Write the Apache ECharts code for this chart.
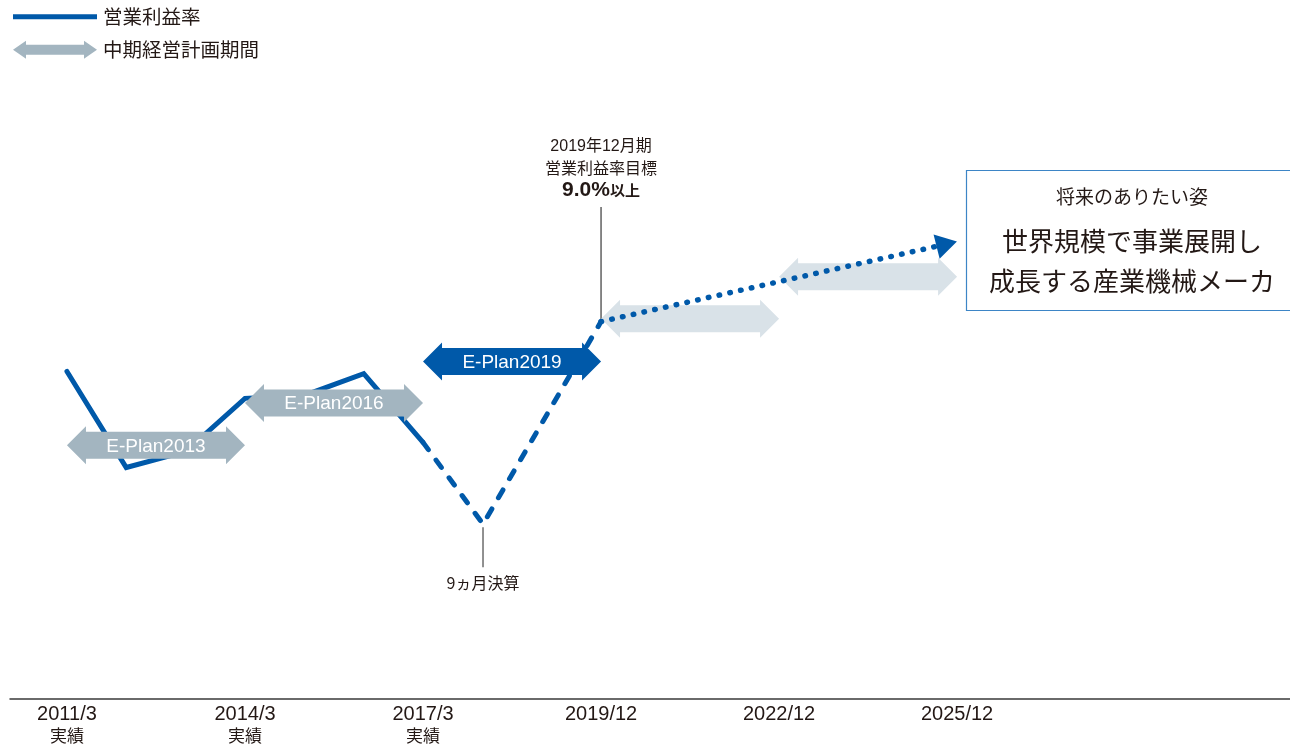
<!DOCTYPE html>
<html><head><meta charset="utf-8">
<script src="https://cdn.jsdelivr.net/npm/echarts@6/dist/echarts.min.js"></script>
<style>html,body{margin:0;padding:0;background:#fff}#c{width:1290px;height:744px}</style>
</head><body><div id="c"></div>
<script>
// ---- data ----
const periods = ['2011/3', '2014/3', '2017/3', '2019/12', '2022/12', '2025/12'];
const periodNotes = ['実績', '実績', '実績', '', '', ''];
const tickPos = [0, 1, 2, 3, 4, 5];

const actualX = [0, 0.333, 0.667, 1, 1.333, 1.667, 2];
const actualMargin = [7.81, 5.52, 5.90, 7.17, 7.24, 7.76, 6.12];

// transition period incl. 9-month settlement
const transX = [2, 2.337, 3];
const transMargin = [6.12, 4.17, 9.0];

// target toward future vision
const targetX = [3, 4.942];
const targetMargin = [9.0, 10.85];

// mid-term plan periods
const planNames = ['E-Plan2013', 'E-Plan2016', 'E-Plan2019', '', ''];
const planStart = [0, 1, 2, 3, 4];
const planEnd = [1, 2, 3, 4, 5];
const planLevel = [6.05, 7.06, 8.05, 9.07, 10.07];
const planStatus = ['past', 'past', 'current', 'future', 'future'];

// ---- chart ----
const SANS = '"Liberation Sans","Noto Sans CJK JP",sans-serif';
const CJK = '"Noto Sans CJK JP","Liberation Sans",sans-serif';
const TXT = '#231815';
const BLUE = '#0059A9';
const statusColor = { past: '#A3B5C0', current: '#0059A9', future: '#D9E2E8' };
const ARROW_ICON = 'path://M0,9L13,0L13,4L71,4L71,0L84,9L71,18L71,14L13,14L13,18Z';

const chart = echarts.init(document.getElementById('c'));

function arrowPoints(x0, x1, yc) {
  const hl = 19, bh = 13.5, hh = 19;
  return [
    [x0, yc], [x0 + hl, yc - hh], [x0 + hl, yc - bh], [x1 - hl, yc - bh], [x1 - hl, yc - hh],
    [x1, yc], [x1 - hl, yc + hh], [x1 - hl, yc + bh], [x0 + hl, yc + bh], [x0 + hl, yc + hh]
  ];
}

const option = {
  animation: false,
  grid: { left: 10, right: 0, top: 70, bottom: 44 },
  legend: [
    {
      data: [{ name: '営業利益率', icon: 'rect' }],
      left: 13, top: 7, padding: 0, itemWidth: 84, itemHeight: 5, selectedMode: false,
      textStyle: { fontFamily: CJK, fontSize: 19.5, color: TXT, padding: [0, 0, 0, 1] }
    },
    {
      data: [{ name: '中期経営計画期間', icon: ARROW_ICON }],
      left: 13, top: 40, padding: 0, itemWidth: 84, itemHeight: 18, selectedMode: false,
      textStyle: { fontFamily: CJK, fontSize: 19.5, color: TXT, padding: [0, 0, 0, 1] }
    }
  ],
  xAxis: {
    type: 'value', min: -0.32, max: 6.87,
    splitLine: { show: false },
    axisTick: { show: false },
    axisLine: { show: true, onZero: false, lineStyle: { color: '#3a3a3a', width: 1.5 } },
    axisLabel: {
      customValues: tickPos,
      margin: 4,
      formatter: function (v) {
        const i = tickPos.indexOf(v);
        if (i < 0) return '';
        return periodNotes[i] ? '{a|' + periods[i] + '}\n{b|' + periodNotes[i] + '}' : '{a|' + periods[i] + '}';
      },
      rich: {
        a: { fontFamily: SANS, fontSize: 20, color: TXT, lineHeight: 22 },
        b: { fontFamily: CJK, fontSize: 17, color: TXT, lineHeight: 21 }
      }
    }
  },
  yAxis: { type: 'value', min: 0, max: 15, show: false },
  series: [
    {
      name: '中期経営計画期間', type: 'custom', z: 3,
      itemStyle: { color: statusColor.past },
      data: planStart.map((s, i) => [s, planEnd[i], planLevel[i], i]),
      encode: { x: [0, 1], y: 2 },
      renderItem: function (params, api) {
        const i = api.value(3);
        const p0 = api.coord([api.value(0), api.value(2)]);
        const p1 = api.coord([api.value(1), api.value(2)]);
        const children = [{
          type: 'polygon',
          shape: { points: arrowPoints(p0[0], p1[0], p0[1]) },
          style: { fill: statusColor[planStatus[i]] }
        }];
        if (planNames[i]) {
          children.push({
            type: 'text',
            style: {
              text: planNames[i], x: (p0[0] + p1[0]) / 2, y: p0[1] + 1,
              align: 'center', verticalAlign: 'middle', fill: '#ffffff',
              font: '19px ' + SANS
            }
          });
        }
        return { type: 'group', children: children };
      }
    },
    {
      name: '営業利益率', type: 'line', z: 2, showSymbol: false, symbol: 'none',
      itemStyle: { color: BLUE },
      lineStyle: { color: BLUE, width: 5, cap: 'round', join: 'miter' },
      data: actualX.map((x, i) => [x, actualMargin[i]])
    },
    {
      name: '営業利益率（移行期）', type: 'line', z: 2, showSymbol: false, symbol: 'none',
      itemStyle: { color: BLUE },
      lineStyle: { color: BLUE, width: 5, type: [9, 13], cap: 'round', join: 'round' },
      data: transX.map((x, i) => [x, transMargin[i]])
    },
    {
      name: '営業利益率（目標）', type: 'line', z: 5, showSymbol: true,
      itemStyle: { color: BLUE },
      lineStyle: { color: BLUE, width: 5.5, type: [0.5, 10.5], cap: 'round' },
      data: targetX.map((x, i) => i === targetX.length - 1
        ? { value: [x, targetMargin[i]], symbol: 'triangle', symbolSize: [25, 21], symbolRotate: -76 }
        : { value: [x, targetMargin[i]], symbol: 'none' })
    }
  ]
};
chart.setOption(option);

// annotations anchored to data points
const pTarget = chart.convertToPixel({ gridIndex: 0 }, [transX[2], transMargin[2]]);
const pNine = chart.convertToPixel({ gridIndex: 0 }, [transX[1], transMargin[1]]);
chart.setOption({
  graphic: [
    { type: 'line', z: 1, shape: { x1: pTarget[0], y1: 207, x2: pTarget[0], y2: pTarget[1] }, style: { stroke: '#111', lineWidth: 1 } },
    { type: 'text', style: { text: '2019年12月期', x: pTarget[0], y: 146.5, align: 'center', verticalAlign: 'middle', fill: TXT, font: '16px ' + SANS } },
    { type: 'text', style: { text: '営業利益率目標', x: pTarget[0], y: 167.5, align: 'center', verticalAlign: 'middle', fill: TXT, font: '16px ' + CJK } },
    { type: 'text', style: {
        text: '{n|9.0%}{s|以上}', x: pTarget[0], y: 190, align: 'center', verticalAlign: 'middle',
        rich: { n: { fontFamily: SANS, fontWeight: 'bold', fontSize: 21, fill: TXT }, s: { fontFamily: CJK, fontWeight: 'bold', fontSize: 15, fill: TXT } }
      } },
    { type: 'line', z: 1, shape: { x1: pNine[0], y1: pNine[1] + 3, x2: pNine[0], y2: pNine[1] + 43 }, style: { stroke: '#555', lineWidth: 1.3 } },
    { type: 'text', style: { text: '9ヵ月決算', x: pNine[0], y: 583, align: 'center', verticalAlign: 'middle', fill: TXT, font: '16px ' + CJK } },
    { type: 'rect', shape: { x: 966.5, y: 170.5, width: 340, height: 140 }, style: { fill: '#fff', stroke: '#3D85C6', lineWidth: 1.2 } },
    { type: 'text', style: { text: '将来のありたい姿', x: 1132, y: 197, align: 'center', verticalAlign: 'middle', fill: TXT, font: '19px ' + CJK } },
    { type: 'text', style: { text: '世界規模で事業展開し', x: 1132, y: 241, align: 'center', verticalAlign: 'middle', fill: TXT, font: '26px ' + CJK } },
    { type: 'text', style: { text: '成長する産業機械メーカ', x: 1132, y: 281, align: 'center', verticalAlign: 'middle', fill: TXT, font: '26px ' + CJK } }
  ]
});
</script>
</body></html>
